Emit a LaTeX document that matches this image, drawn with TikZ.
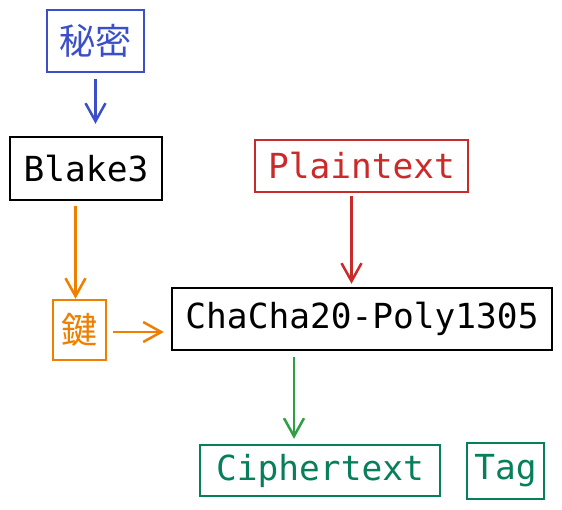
\documentclass[tikz,border=0pt]{standalone}
\usepackage{fontspec}
\setmonofont{DejaVu Sans Mono}
\newfontfamily\cjk{Noto Sans CJK JP}
\usetikzlibrary{arrows.meta,calc}
\definecolor{cblue}{HTML}{3B4FC8}
\definecolor{cred}{HTML}{C92A2A}
\definecolor{corange}{HTML}{EE7F00}
\definecolor{cgreen}{HTML}{2F9E44}
\definecolor{cteal}{HTML}{087F5B}
\tikzset{
  box/.style={draw, line width=2.5pt, inner sep=0pt, font=\fontsize{34.5}{40}\selectfont\ttfamily},
  cjkbox/.style={draw, line width=2.5pt, inner sep=0pt, font=\fontsize{36}{40}\selectfont\cjk},
  arr/.style={line width=2.5pt, -{Straight Barb[length=18pt,width=20pt,line width=2.5pt]}},
}
\begin{document}
\begin{tikzpicture}[x=1pt,y=-1pt]
\useasboundingbox (0,0) rectangle (562,509);
\node[cjkbox, cblue, minimum width=97pt, minimum height=62pt] (mimi) at (95.5,41) {秘密};
\node[box, black, minimum width=152pt, minimum height=63pt] (blake) at (86,168.5) {Blake3};
\node[box, cred, minimum width=213pt, minimum height=52pt] (plain) at (361.5,166) {Plaintext};
\node[box, black, minimum width=380pt, minimum height=62pt] (chacha) at (362,319) {ChaCha20-Poly1305};
\node[cjkbox, corange, minimum width=53pt, minimum height=60pt] (key) at (79.5,330) {鍵};
\node[box, cteal, minimum width=240pt, minimum height=51pt] (cipher) at (320,470.5) {Ciphertext};
\node[box, cteal, minimum width=77pt, minimum height=56pt] (tag) at (505.5,471) {Tag};

\draw[arr, cblue, shorten <=6pt, shorten >=12pt] (mimi.south) -- (mimi.south |- blake.north);
\draw[arr, corange, shorten <=5pt] ([xshift=-4pt]key.north |- blake.south) -- ([xshift=-4pt]key.north);
\draw[arr, corange, shorten <=6pt, shorten >=7pt] ([yshift=-2pt]key.east) -- ([yshift=-2pt]key.east -| chacha.west);
\draw[arr, cred, shorten <=3pt, shorten >=3pt] ([xshift=-10pt]plain.south) -- ([xshift=-10pt]plain.south |- chacha.north);
\draw[arr, cgreen, shorten <=6pt, shorten >=5pt] ([xshift=-26pt]cipher.north |- chacha.south) -- ([xshift=-26pt]cipher.north);
\end{tikzpicture}
\end{document}
